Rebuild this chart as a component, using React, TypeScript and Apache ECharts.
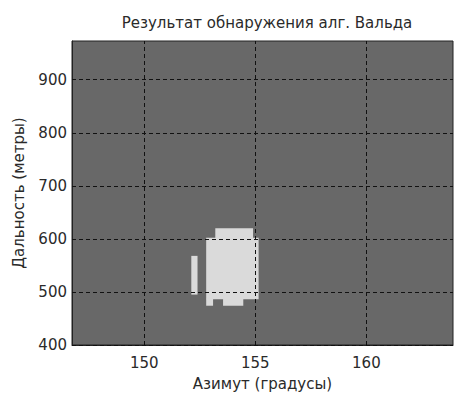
import React, { useEffect, useRef } from "react";
import * as echarts from "echarts";

// Detection cells: azimuth start/end (degrees), range start/end (metres)
const cellAzStart = [152.12, 152.79, 153.2, 152.79, 153.55];
const cellAzEnd = [152.4, 155.15, 154.9, 153.1, 154.46];
const cellRangeStart = [495, 486, 600, 474, 474];
const cellRangeEnd = [568, 602, 620, 487, 487];

const xTicks = [150, 155, 160];
const yTicks = [400, 500, 600, 700, 800, 900];

const titleText = "Результат обнаружения алг. Вальда";
const xName = "Азимут (градусы)";
const yName = "Дальность (метры)";

export default function App() {
  const ref = useRef<HTMLDivElement>(null);
  useEffect(() => {
    if (!ref.current) return;
    const chart = echarts.init(ref.current, null, { renderer: "svg" });
    const font = "DejaVu Sans";
    const textColor = "#2a2a2a";
    const cells = cellAzStart.map((x0, i) => [x0, cellAzEnd[i], cellRangeStart[i], cellRangeEnd[i]]);
    const gridStyle = { color: "#111", width: 1, type: [4, 3] as any };
    chart.setOption({
      animation: false,
      backgroundColor: "#ffffff",
      title: {
        text: titleText,
        left: 262,
        top: 10,
        textAlign: "center",
        textStyle: { fontFamily: font, fontSize: 15, fontWeight: "normal", color: textColor },
      },
      grid: {
        left: 72,
        right: 2,
        top: 41,
        bottom: 48,
        show: true,
        backgroundColor: "#686868",
        borderColor: "#222",
        borderWidth: 1,
      },
      xAxis: {
        type: "value",
        min: 146.75,
        max: 163.9,
        name: xName,
        nameLocation: "middle",
        nameGap: 31,
        nameTextStyle: { fontFamily: font, fontSize: 15, color: textColor },
        axisLine: { show: true, lineStyle: { color: "#222" } },
        axisTick: { show: true, inside: true, length: 4, customValues: xTicks, lineStyle: { color: "#111" } },
        axisLabel: { customValues: xTicks, margin: 10, fontFamily: font, fontSize: 15, color: textColor },
        splitLine: { show: false },
      },
      yAxis: {
        type: "value",
        min: 400,
        max: 973,
        name: yName,
        nameLocation: "middle",
        nameGap: 46,
        nameTextStyle: { fontFamily: font, fontSize: 15, color: textColor },
        axisLine: { show: true, lineStyle: { color: "#222" } },
        axisTick: { show: true, inside: true, length: 4, customValues: yTicks, lineStyle: { color: "#111" } },
        axisLabel: { customValues: yTicks, margin: 5, fontFamily: font, fontSize: 15, color: textColor },
        splitLine: { show: false },
      },
      series: [
        {
          type: "custom",
          data: cells,
          encode: { x: [0, 1], y: [2, 3] },
          clip: true,
          renderItem: (_params: any, api: any) => {
            const p0 = api.coord([api.value(0), api.value(3)]);
            const p1 = api.coord([api.value(1), api.value(2)]);
            return {
              type: "rect",
              shape: { x: p0[0], y: p0[1], width: p1[0] - p0[0], height: p1[1] - p0[1] },
              style: { fill: "#dadada" },
            };
          },
          markLine: {
            silent: true,
            symbol: "none",
            label: { show: false },
            lineStyle: gridStyle,
            data: [
              ...xTicks.map((v) => ({ xAxis: v })),
              ...yTicks.map((v) => ({ yAxis: v })),
            ],
          },
          z: 2,
        },
      ],
    });
    return () => chart.dispose();
  }, []);
  return (
    <div
      ref={ref}
      style={{ position: "fixed", left: 0, top: 0, width: 455, height: 396, background: "#fff" }}
    />
  );
}
